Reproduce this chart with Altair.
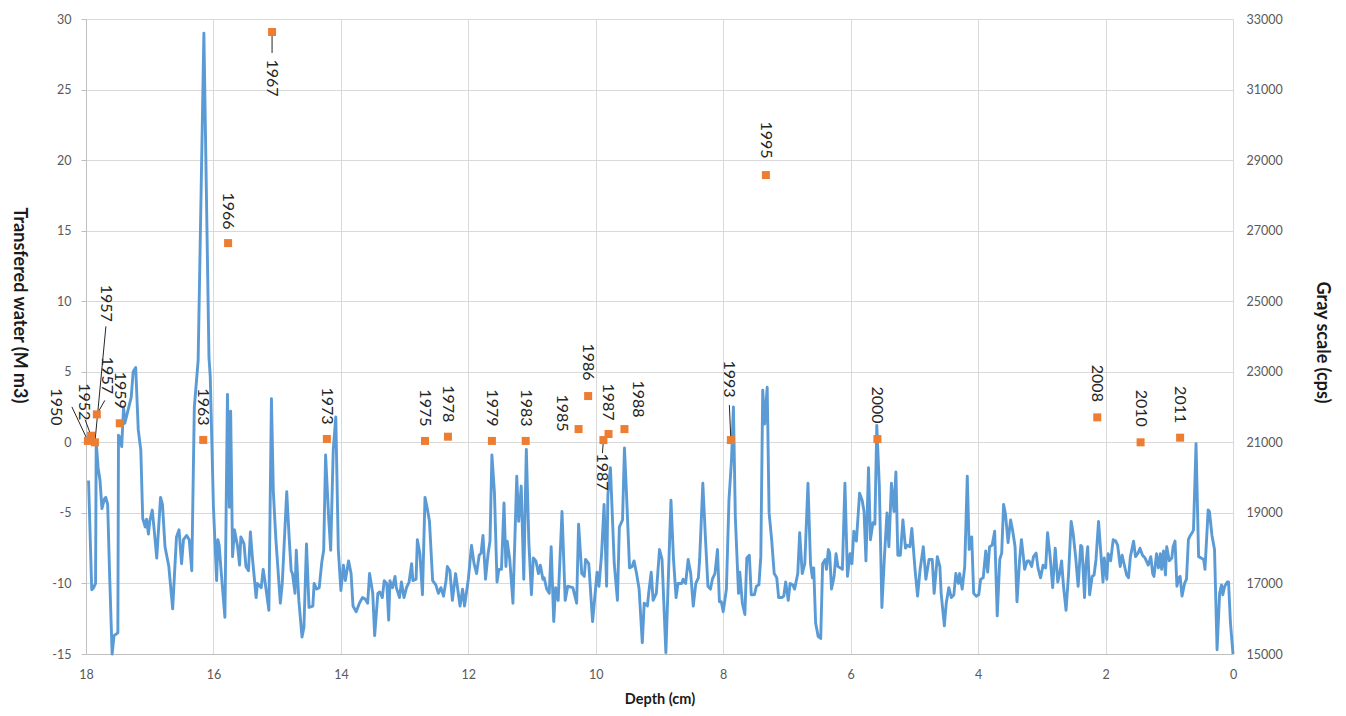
import altair as alt
import pandas as pd

# ---------------- data ----------------
# Gray scale profile (cps) along depth (cm)
depth = [
    17.96, 17.91, 17.88, 17.85, 17.84, 17.81, 17.78, 17.75, 17.71, 17.69,
    17.66, 17.63, 17.59, 17.56, 17.50, 17.49, 17.46, 17.44, 17.41, 17.39,
    17.35, 17.29, 17.26, 17.22, 17.18, 17.14, 17.11, 17.07, 17.05, 17.02,
    17.00, 16.96, 16.93, 16.89, 16.83, 16.80, 16.76, 16.70, 16.64, 16.58,
    16.54, 16.50, 16.47, 16.42, 16.38, 16.34, 16.30, 16.24, 16.15, 16.07,
    16.05, 16.00, 15.95, 15.93, 15.91, 15.88, 15.82, 15.78, 15.75, 15.73,
    15.70, 15.67, 15.62, 15.59, 15.57, 15.52, 15.49, 15.45, 15.42, 15.39,
    15.33, 15.31, 15.25, 15.22, 15.19, 15.13, 15.09, 15.06, 15.02, 14.95,
    14.92, 14.85, 14.81, 14.78, 14.76, 14.72, 14.70, 14.66, 14.61, 14.58,
    14.54, 14.50, 14.44, 14.42, 14.38, 14.34, 14.30, 14.27, 14.24, 14.19,
    14.16, 14.12, 14.08, 14.04, 14.00, 13.96, 13.93, 13.88, 13.84, 13.81,
    13.76, 13.71, 13.66, 13.62, 13.58, 13.55, 13.50, 13.47, 13.42, 13.39,
    13.35, 13.32, 13.28, 13.25, 13.23, 13.19, 13.15, 13.13, 13.08, 13.05,
    13.01, 12.97, 12.93, 12.89, 12.87, 12.82, 12.80, 12.76, 12.72, 12.68,
    12.64, 12.61, 12.56, 12.51, 12.47, 12.43, 12.39, 12.35, 12.33, 12.29,
    12.25, 12.20,
    12.13, 12.09, 12.06, 12.00, 11.95, 11.91, 11.87, 11.83, 11.80, 11.77,
    11.73, 11.69, 11.66, 11.63, 11.59, 11.55, 11.52, 11.48, 11.44, 11.41,
    11.39, 11.35, 11.30, 11.24, 11.21, 11.17, 11.13, 11.09, 11.05, 11.01,
    10.98, 10.94, 10.90, 10.87, 10.83, 10.81, 10.77, 10.73, 10.70, 10.66,
    10.63, 10.59, 10.53, 10.48, 10.44, 10.36, 10.30, 10.27, 10.22, 10.18,
    10.16, 10.11, 10.05, 9.98, 9.95, 9.91, 9.87, 9.83, 9.81, 9.77,
    9.71, 9.66, 9.63, 9.58, 9.55, 9.52, 9.47, 9.43, 9.40, 9.36,
    9.32, 9.27, 9.24, 9.19, 9.17, 9.13,
    9.10, 9.07, 9.05, 9.00, 8.96, 8.90, 8.85, 8.82, 8.78, 8.74,
    8.71, 8.65, 8.63, 8.59, 8.55, 8.51, 8.47, 8.43, 8.39, 8.37,
    8.32, 8.28, 8.24, 8.20, 8.17, 8.13, 8.09, 8.06, 8.03, 8.00,
    7.95, 7.91, 7.87, 7.84, 7.81, 7.76, 7.74, 7.70, 7.66, 7.63,
    7.59, 7.56, 7.51, 7.48, 7.44, 7.41, 7.38, 7.35, 7.31, 7.28,
    7.24, 7.20, 7.16, 7.13, 7.08, 7.05, 7.02, 6.98, 6.95, 6.91,
    6.88, 6.83, 6.80, 6.76, 6.72, 6.67, 6.63, 6.60, 6.58, 6.55,
    6.51, 6.47, 6.44, 6.40, 6.38, 6.35, 6.33, 6.30, 6.26, 6.23,
    6.20, 6.16, 6.13, 6.09, 6.05, 6.01,
    5.98, 5.95, 5.91, 5.86, 5.82, 5.79, 5.76, 5.72, 5.69, 5.65,
    5.62, 5.59, 5.55, 5.51, 5.47, 5.43, 5.40, 5.36, 5.32, 5.29,
    5.26, 5.22, 5.18, 5.14, 5.11, 5.07, 5.04, 4.99, 4.95, 4.91,
    4.86, 4.82, 4.77, 4.72, 4.69, 4.64, 4.60, 4.58, 4.53, 4.50,
    4.46, 4.42, 4.38, 4.35, 4.31, 4.29, 4.25, 4.21, 4.17, 4.14,
    4.10, 4.07, 4.03, 3.99, 3.96, 3.92, 3.88, 3.85, 3.82, 3.78,
    3.74, 3.70, 3.66, 3.63, 3.60, 3.57, 3.53, 3.49, 3.46, 3.42,
    3.39, 3.35, 3.32, 3.29, 3.27, 3.23, 3.20, 3.16, 3.13, 3.09,
    3.06, 3.02, 2.98,
    2.94, 2.91, 2.87, 2.83, 2.79, 2.75, 2.72, 2.69, 2.66, 2.62,
    2.58, 2.54, 2.51, 2.47, 2.43, 2.39, 2.37, 2.33, 2.31, 2.28,
    2.25, 2.21, 2.18, 2.15, 2.11, 2.07, 2.04, 2.02, 1.98, 1.96,
    1.92, 1.88, 1.84, 1.81, 1.77, 1.74, 1.70, 1.67, 1.64, 1.61,
    1.56, 1.53, 1.49, 1.46, 1.42, 1.38, 1.36, 1.33, 1.29, 1.26,
    1.24, 1.20, 1.17, 1.14, 1.12, 1.09, 1.06, 1.04, 1.00, 0.96,
    0.94, 0.91, 0.88, 0.85, 0.83, 0.80, 0.76, 0.73, 0.70, 0.67,
    0.64, 0.62, 0.58, 0.54, 0.50, 0.46, 0.44, 0.39, 0.37, 0.33,
    0.29, 0.25, 0.21, 0.18, 0.16, 0.13, 0.09, 0.07, 0.04, 0.00,
]
gray = [
    19920, 16820, 16880, 17000, 21000, 20280, 19920, 19120, 19400, 19440,
    19240, 17280, 15000, 15520, 15600, 21200, 21120, 20880, 22000, 21540,
    21840, 22280, 23000, 23120, 21360, 20780, 18840, 18600, 18820, 18400,
    18760, 19080, 18520, 17720, 19440, 19240, 18040, 17480, 16280, 18320,
    18520, 17560, 18240, 18360, 18240, 17360, 22000, 23320, 32600, 23400,
    22860, 19160, 17080, 18240, 18080, 17360, 16040, 22360, 19160, 21880,
    17760, 18520, 18040, 17520, 18320, 18120, 17480, 17360, 18460, 17760,
    16600, 17000, 16880, 17400, 17040, 16240, 22240, 19600, 18240, 16440,
    17000, 19600, 18240, 17360, 17280, 16720, 17940, 16520, 15480, 15760,
    18120, 16320, 16360, 17000, 16840, 16880, 17600, 17940, 20640, 18800,
    17940, 20780, 21720, 17940, 16800, 17520, 17080, 17640, 17280, 16360,
    16200, 16440, 16600, 16560, 16440, 17280, 16720, 15520, 16720, 16760,
    16600, 17080, 17000, 15960, 17080, 16880, 17200, 16880, 16600, 17040,
    16600, 16880, 17040, 17560, 17080, 17120, 18240, 17840, 16680, 19440,
    19080, 18760, 17080, 16960, 16720, 16880, 16640, 17080, 17480, 17360,
    16520, 17280,
    16360, 16840, 16360, 17120, 18080, 17560, 17280, 17800, 17860, 18360,
    17120, 17840, 18200, 20640, 19560, 17040, 17400, 17400, 19280, 17480,
    18200, 17680, 16440, 20040, 18760, 19760, 17120, 20800, 18160, 16680,
    17720, 17640, 17280, 17520, 17120, 17160, 16840, 16720, 18040, 15920,
    16880, 16520, 19040, 16520, 16920, 16880, 16440, 18680, 17280, 17200,
    17680, 17560, 15920, 17320, 16920, 17800, 19240, 16920, 19520, 20280,
    17560, 16520, 18600, 18800, 20840, 19640, 17440, 17480, 17640, 17280,
    16840, 15320, 16440, 16360, 16720, 17320,
    16520, 16640, 16720, 17960, 17680, 15040, 17760, 19360, 17680, 16600,
    17000, 17000, 17120, 17000, 17680, 17280, 16360, 17000, 17160, 17680,
    19840, 18320, 16920, 16840, 17120, 17280, 17960, 16480, 16480, 16200,
    16840, 19360, 20500, 22000, 18880, 16720, 17320, 16440, 16120, 17720,
    17800, 16680, 16680, 16920, 16960, 17760, 22480, 21520, 22560, 19000,
    18240, 17280, 17160, 16600, 16600, 16640, 17040, 16520, 17000, 16960,
    16840, 17280, 18440, 17280, 17560, 19840, 17560, 17160, 17440, 15880,
    15500, 15440, 17560, 17680, 17400, 17960, 17860, 16840, 17200, 17840,
    17480, 17440, 17400, 19840, 17200, 17840,
    17560, 18480, 18200, 19560, 19360, 19040, 17640, 20280, 18240, 18720,
    18680, 21480, 19760, 16320, 17760, 19000, 18040, 19840, 19040, 20160,
    17800, 17800, 18800, 18000, 18080, 18040, 18560, 17400, 16640, 17400,
    18040, 17120, 17680, 17680, 16720, 17760, 17480, 16720, 15800, 16440,
    16880, 16600, 16680, 17280, 17000, 17280, 16840, 17480, 20040, 17960,
    18320, 16720, 16640, 16680, 17120, 17160, 17920, 17320, 18040, 18080,
    18480, 16080, 17680, 17860, 19240, 18960, 18160, 18800, 18520, 18040,
    16480, 17640, 18240, 17760, 17400, 17640, 17640, 17480, 17760, 17860,
    17440, 17160, 17520,
    17440, 18440, 17760, 16880, 18000, 17040, 17280, 17640, 16920, 16240,
    17280, 18760, 18440, 17760, 16920, 18080, 18040, 16600, 17480, 18040,
    16680, 17200, 17240, 17680, 18760, 17760, 17040, 17720, 17120, 17840,
    17640, 18240, 18200, 18080, 17480, 17800, 17480, 17240, 17160, 17760,
    18200, 17760, 17860, 18000, 17800, 17720, 17640, 17520, 17760, 17280,
    17200, 17840, 17440, 17840, 17400, 17920, 17240, 18040, 17640, 17720,
    18040, 18200, 16920, 17160, 17200, 16640, 17000, 17120, 18240, 18360,
    18440, 18520, 20960, 17760, 17720, 17680, 17400, 19080, 19040, 18360,
    17960, 15120, 16720, 16960, 16680, 16920, 17040, 17040, 15880, 15000,
]

# Transferred water (M m3) per year, plotted at the depth of that year
years = ["1950", "1952", "1957", "1957", "1959", "1963", "1966", "1967",
         "1973", "1975", "1978", "1979", "1983", "1985", "1986", "1987",
         "1987", "1988", "1993", "1995", "2000", "2008", "2010", "2011"]
year_depth = [17.97, 17.92, 17.86, 17.83, 17.47, 16.16, 15.77, 15.08,
              14.22, 12.68, 12.32, 11.63, 11.10, 10.27, 10.12, 9.88,
              9.80, 9.55, 7.88, 7.33, 5.58, 2.13, 1.45, 0.83]
water = [0.1, 0.47, 0.0, 1.98, 1.35, 0.17, 14.12, 29.08,
         0.24, 0.1, 0.4, 0.1, 0.1, 0.94, 3.28, 0.16,
         0.59, 0.94, 0.16, 18.94, 0.23, 1.77, 0.0, 0.33]

# ---------------- layout / style ----------------
W, H = 1147, 635
X_DOMAIN = [0, 18]
Y_LEFT = [-15, 30]
Y_RIGHT = [15000, 33000]
PX_X = W / (X_DOMAIN[1] - X_DOMAIN[0])
PX_Y = H / (Y_LEFT[1] - Y_LEFT[0])

# label offsets from their marker, in pixels (dx right, dy down)
label_offset = [(-32, -34), (-7, -34), (11, -139), (10, -39), (0, -33), (0, -33),
                (0, -32), (0, 46), (0, -33), (0, -33), (0, -33), (0, -33),
                (0, -33), (-17, -16), (0, -34), (-1, 32), (-1, -32), (14, -30),
                (-2, -61), (0, -35), (0, -34), (0, -34), (0, -34), (0, -33)]
# leader lines: index -> end offset (pixels) from marker
leaders = {0: (-16, -34), 1: (-6, -16), 2: (11, -116), 3: (8, -14),
           7: (0, 21), 15: (-1, 13), 18: (-1.5, -35)}

assert len(depth) == len(gray)

FONT = "Lato"
BLUE = "#5B9BD5"
ORANGE = "#ED7D31"
GRID = "#d9d9d9"
AXIS = "#bfbfbf"
LABEL = "#595959"

line_df = pd.DataFrame({"i": range(len(depth)), "depth": depth, "gray": gray})
pts_df = pd.DataFrame({"year": years, "depth": year_depth, "water": water})
pts_df["ldepth"] = [d - o[0] / PX_X for d, o in zip(year_depth, label_offset)]
pts_df["lwater"] = [w - o[1] / PX_Y for w, o in zip(water, label_offset)]
lead_df = pd.DataFrame({
    "depth": [year_depth[k] for k in leaders],
    "water": [water[k] for k in leaders],
    "depth2": [year_depth[k] - e[0] / PX_X for k, e in leaders.items()],
    "water2": [water[k] - e[1] / PX_Y for k, e in leaders.items()],
})

xscale = alt.Scale(domain=X_DOMAIN, reverse=True, nice=False, zero=False)
yl_scale = alt.Scale(domain=Y_LEFT, nice=False, zero=False)
yr_scale = alt.Scale(domain=Y_RIGHT, nice=False, zero=False)

x_axis = alt.Axis(
    values=list(range(0, 19, 2)), grid=True, gridColor=GRID, domainColor=AXIS,
    ticks=False, tickSize=0, labelPadding=14, labelFlush=False, labelOverlap=False,
    title="Depth (cm)", titleFontSize=14.5, titleX=W / 2, titleY=45,
    titleBaseline="middle", titleAlign="center",
)
left_axis = alt.Axis(
    orient="left", values=list(range(-15, 31, 5)), grid=True, gridColor=GRID,
    domainColor=AXIS, tickColor=AXIS, tickSize=5, labelPadding=10,
    labelFlush=False, labelOverlap=False, labelExpr="'' + datum.value",
    title="Transfered water (M m3)", titleAngle=90, titleFontSize=18,
    titleX=-67.5, titleY=286, titleBaseline="middle", titleAlign="center",
)
right_axis = alt.Axis(
    orient="right", values=list(range(15000, 33001, 2000)), grid=False,
    domain=False, ticks=False, tickSize=0, labelPadding=13, format="d",
    labelFlush=False, labelOverlap=False,
    title="Gray scale (cps)", titleAngle=90, titleFontSize=18,
    titleX=88.5, titleY=323, titleBaseline="middle", titleAlign="center",
)

line = alt.Chart(line_df).mark_line(
    color=BLUE, strokeWidth=2.9, strokeJoin="round"
).encode(
    x=alt.X("depth:Q", scale=xscale, axis=x_axis),
    y=alt.Y("gray:Q", scale=yr_scale, axis=right_axis),
    order="i:Q",
)

rules = alt.Chart(lead_df).mark_rule(color="#262626", strokeWidth=1).encode(
    x=alt.X("depth:Q", scale=xscale, axis=x_axis),
    x2="depth2:Q",
    y=alt.Y("water:Q", scale=yl_scale, axis=left_axis),
    y2="water2:Q",
)

points = alt.Chart(pts_df).mark_square(
    color=ORANGE, size=64, opacity=1
).encode(
    x=alt.X("depth:Q", scale=xscale, axis=x_axis),
    y=alt.Y("water:Q", scale=yl_scale, axis=left_axis),
)

labels = alt.Chart(pts_df).mark_text(
    angle=90, font=FONT, fontSize=16, color="#262626",
    align="center", baseline="middle",
).encode(
    x=alt.X("ldepth:Q", scale=xscale, axis=x_axis),
    y=alt.Y("lwater:Q", scale=yl_scale, axis=left_axis),
    text="year:N",
)

water_layer = alt.layer(rules, points, labels)

chart = alt.layer(line, water_layer).resolve_scale(y="independent").properties(
    width=W, height=H,
    autosize=alt.AutoSizeParams(type="none"),
    padding={"left": 78, "top": 11, "right": 105, "bottom": 54},
    background="white",
).configure_view(stroke=None).configure_axis(
    labelFont=FONT, labelFontSize=12.5, labelColor=LABEL,
    titleFont=FONT, titleFontWeight="bold", titleColor="#1a1a1a",
)

chart.save("out.html", embed_options={"renderer": "svg", "actions": False})
